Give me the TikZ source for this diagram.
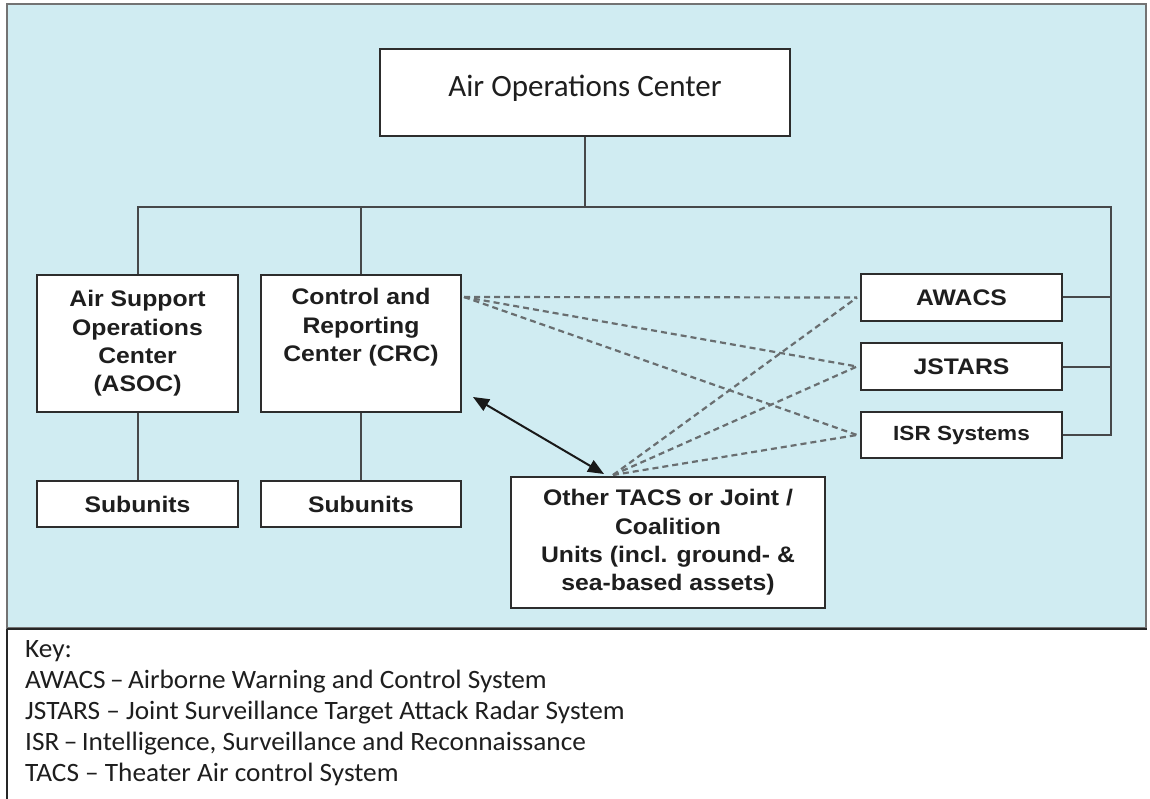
\documentclass[tikz,border=0pt]{standalone}
\usepackage{fontspec}
\setmainfont{Liberation Sans}[FakeStretch=1.1]
\newfontfamily\calfont{Carlito}
\newfontfamily\keyfont{Carlito}[FakeStretch=1.03]
\usetikzlibrary{arrows.meta}
\definecolor{panelblue}{RGB}{208,236,242}
\definecolor{boxline}{RGB}{45,45,45}
\definecolor{connline}{RGB}{70,72,74}
\definecolor{dashline}{RGB}{105,110,112}
\definecolor{textdark}{RGB}{30,30,30}
\begin{document}
\begin{tikzpicture}[x=1pt,y=-1pt,
  box/.style={draw=boxline, line width=2pt, fill=white, inner sep=0pt, align=center,
    text=textdark, font=\fontsize{22.5}{28.3}\selectfont\bfseries},
  conn/.style={draw=connline, line width=2pt},
  dashconn/.style={draw=dashline, line width=2.2pt, dash pattern=on 6pt off 4pt},
  dblarrow/.style={draw=black!90, line width=2pt, {Triangle[length=16pt,width=13pt]}-{Triangle[length=16pt,width=13pt]}}
]
\useasboundingbox (0,0) rectangle (1150,799);
\fill[white] (0,0) rectangle (1150,799);
% panel
\draw[fill=panelblue, draw=gray!90!black, line width=2.5pt] (7,4) rectangle (1146,628);
\draw[line width=2.5pt, draw=black!85] (7,629) -- (1147,629);
\draw[line width=2pt, draw=black!85] (7,629) -- (7,799);

% boxes
\node[box, minimum width=410pt, minimum height=87pt, text height=20pt, text depth=11pt,
  font=\calfont\fontsize{31}{36}\selectfont] (aoc) at (585,92.5) {Air Operations Center};
\node[box, minimum width=201pt, minimum height=137pt] (asoc) at (137.5,343.5)
  {Air Support\\Operations\\Center\\(ASOC)};
\node[box, minimum width=200pt, minimum height=137pt] (crc) at (361,343.5)
  {Control and\\Reporting\\Center (CRC)\\\strut};
\node[box, minimum width=201pt, minimum height=46pt] (sub1) at (137.5,504) {Subunits};
\node[box, minimum width=200pt, minimum height=46pt] (sub2) at (361,504) {Subunits};
\node[box, minimum width=201pt, minimum height=47pt] (awacs) at (961.5,297.5) {AWACS};
\node[box, minimum width=201pt, minimum height=47pt] (jstars) at (961.5,366.5) {JSTARS};
\node[box, minimum width=201pt, minimum height=46pt, font=\fontsize{20.5}{25}\selectfont\bfseries] (isr) at (961.5,435) {ISR Systems};
\node[box, minimum width=314pt, minimum height=131pt] (other) at (668,542.5)
  {Other TACS or Joint /\\Coalition\\Units (incl. ground- \&\\sea-based assets)};

% tree connectors
\coordinate (jl) at (137.5,207);
\coordinate (jr) at (1111,207);
\draw[conn] (aoc.south) -- (aoc.south |- jl);
\draw[conn] (asoc.north) -- (jl) -- (jr) -- (jr |- isr.east) -- (isr.east);
\draw[conn] (crc.north) -- (crc.north |- jl);
\draw[conn] (awacs.east) -- (awacs.east -| jr);
\draw[conn] (jstars.east) -- (jstars.east -| jr);
\draw[conn] (asoc.south) -- (sub1.north);
\draw[conn] (crc.south) -- (sub2.north);

% dashed links
\coordinate (crcd) at ([xshift=2pt,yshift=-23pt]crc.north east);
\coordinate (othd) at ([xshift=-55pt,yshift=1pt]other.north);
\coordinate (awd) at ([xshift=-3pt]awacs.west);
\coordinate (jsd) at ([xshift=-3pt]jstars.west);
\coordinate (isd) at ([xshift=-3pt]isr.west);
\foreach \t in {awd,jsd,isd}{
  \draw[dashconn] (crcd) -- (\t);
  \draw[dashconn] (othd) -- (\t);
}

% double arrow
\coordinate (arA) at ([xshift=11pt,yshift=16pt]crc.south east);
\coordinate (arB) at ([xshift=-64pt,yshift=2pt]other.north);
\draw[dblarrow] (arA) -- (arB);

% key
\node[anchor=base west, align=left, inner sep=0pt, text=textdark,
  font=\keyfont\fontsize{26.5}{31}\selectfont] (key) at (25,781)
  {Key:\\
   AWACS\,–\,Airborne Warning and Control System\\
   JSTARS – Joint Surveillance Target Attack Radar System\\
   ISR\,–\,Intelligence, Surveillance and Reconnaissance\\
   TACS – Theater Air control System};
\end{tikzpicture}
\end{document}
